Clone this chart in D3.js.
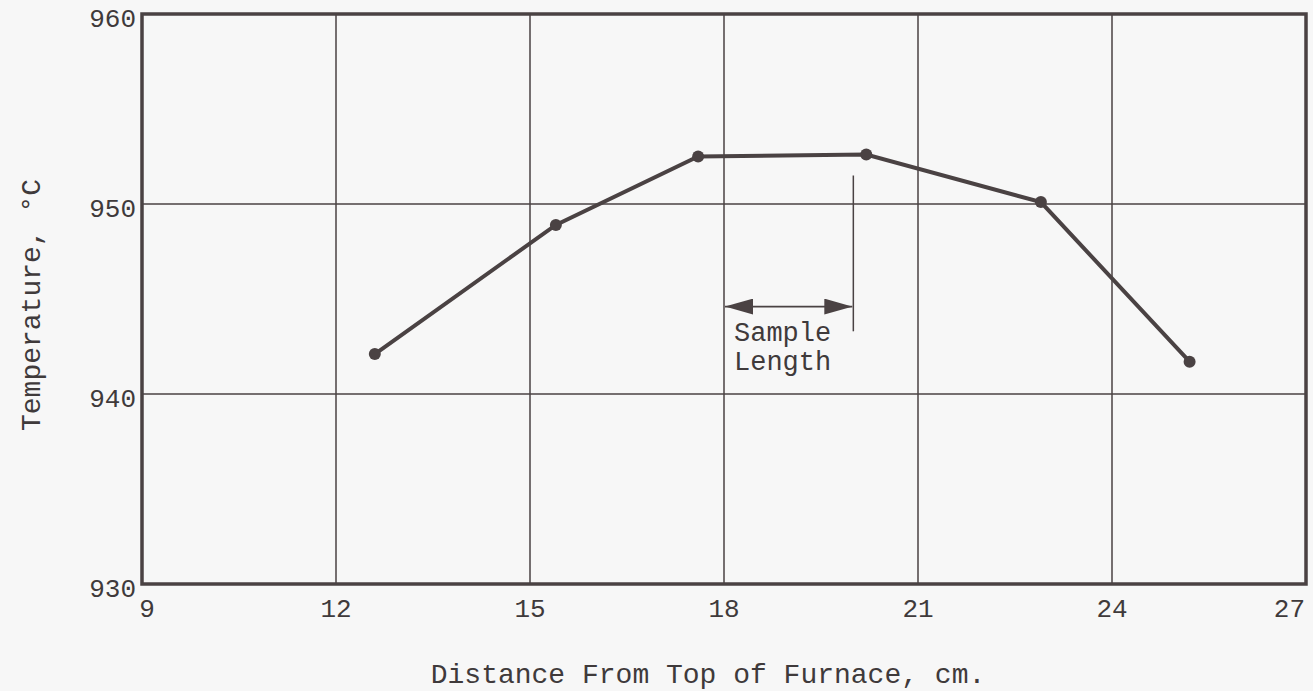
<!DOCTYPE html>
<html>
<head>
<meta charset="utf-8">
<script src="https://cdn.jsdelivr.net/npm/d3@7"></script>
<style>
  body { margin: 0; background: #f7f7f7; }
  svg { display: block; }
  text { font-family: "Liberation Mono", "DejaVu Sans Mono", monospace; fill: #3f3a3b; }
</style>
</head>
<body>
<svg width="1313" height="691"></svg>
<script>
// furnace temperature profile
var distance = [12.6, 15.4, 17.6, 20.2, 22.9, 25.2];
var temperature = [942.1, 948.9, 952.5, 952.6, 950.1, 941.7];
var xTicks = [9, 12, 15, 18, 21, 24, 27];
var yTicks = [930, 940, 950, 960];
var sampleStart = 18, sampleEnd = 20.0;
var sampleArrowT = 944.6, sampleLineTop = 951.5, sampleLineBottom = 943.3;

var ink = "#4a4243";

var svg = d3.select("svg"),
    margin = {top: 14, right: 7, bottom: 107, left: 142},
    width = +svg.attr("width") - margin.left - margin.right,
    height = +svg.attr("height") - margin.top - margin.bottom,
    g = svg.append("g").attr("transform", "translate(" + margin.left + "," + margin.top + ")");

var x = d3.scaleLinear().domain([9, 27]).range([0, width]);
var y = d3.scaleLinear().domain([930, 960]).range([height, 0]);

// grid
g.append("g")
  .selectAll("line")
  .data(xTicks.slice(1, -1))
  .enter().append("line")
    .attr("x1", function(d) { return x(d); })
    .attr("x2", function(d) { return x(d); })
    .attr("y1", 0).attr("y2", height)
    .attr("stroke", ink).attr("stroke-width", 1.5);

g.append("g")
  .selectAll("line")
  .data(yTicks.slice(1, -1))
  .enter().append("line")
    .attr("y1", function(d) { return y(d); })
    .attr("y2", function(d) { return y(d); })
    .attr("x1", 0).attr("x2", width)
    .attr("stroke", ink).attr("stroke-width", 1.5);

// frame
g.append("rect")
  .attr("width", width).attr("height", height)
  .attr("fill", "none").attr("stroke", ink).attr("stroke-width", 3.5);

// tick labels
g.append("g")
  .selectAll("text")
  .data(xTicks)
  .enter().append("text")
    .attr("x", function(d, i) { return i === xTicks.length - 1 ? x(d) - 1 : x(d) + (i === 0 ? 5 : 0); })
    .attr("y", height + 33)
    .attr("text-anchor", function(d, i) { return i === xTicks.length - 1 ? "end" : "middle"; })
    .style("font-size", "26px")
    .text(function(d) { return d; });

g.append("g")
  .selectAll("text")
  .data(yTicks)
  .enter().append("text")
    .attr("x", -6)
    .attr("y", function(d) { return y(d) + 4; })
    .attr("dy", "0.35em")
    .attr("text-anchor", "end")
    .style("font-size", "26px")
    .text(function(d) { return d; });

// sample length marker
var defs = svg.append("defs");
defs.append("marker")
    .attr("id", "head")
    .attr("viewBox", "0 0 18 10")
    .attr("refX", 18).attr("refY", 5)
    .attr("markerWidth", 28).attr("markerHeight", 16)
    .attr("markerUnits", "userSpaceOnUse")
    .attr("orient", "auto-start-reverse")
    .attr("preserveAspectRatio", "none")
  .append("path")
    .attr("d", "M0,0 L18,5 L0,10 Z")
    .attr("fill", ink);

g.append("line")
  .attr("x1", x(sampleEnd)).attr("x2", x(sampleEnd))
  .attr("y1", y(sampleLineTop)).attr("y2", y(sampleLineBottom))
  .attr("stroke", ink).attr("stroke-width", 1.5);

g.append("line")
  .attr("x1", x(sampleStart) + 1).attr("x2", x(sampleEnd) - 1)
  .attr("y1", y(sampleArrowT)).attr("y2", y(sampleArrowT))
  .attr("stroke", ink).attr("stroke-width", 1.8)
  .attr("marker-start", "url(#head)")
  .attr("marker-end", "url(#head)");

g.append("text")
  .attr("x", x(sampleStart) + 10)
  .attr("y", y(sampleArrowT) + 34)
  .style("font-size", "27px")
  .text("Sample");
g.append("text")
  .attr("x", x(sampleStart) + 10)
  .attr("y", y(sampleArrowT) + 63)
  .style("font-size", "27px")
  .text("Length");

// profile line
var pts = distance.map(function(d, i) { return [d, temperature[i]]; });
var line = d3.line()
  .x(function(d) { return x(d[0]); })
  .y(function(d) { return y(d[1]); });

g.append("path")
  .datum(pts)
  .attr("d", line)
  .attr("fill", "none")
  .attr("stroke", ink)
  .attr("stroke-width", 4);

g.append("g")
  .selectAll("circle")
  .data(pts)
  .enter().append("circle")
    .attr("cx", function(d) { return x(d[0]); })
    .attr("cy", function(d) { return y(d[1]); })
    .attr("r", 6)
    .attr("fill", ink);

// axis titles
svg.append("text")
  .attr("x", 708)
  .attr("y", 683)
  .attr("text-anchor", "middle")
  .style("font-size", "28px")
  .text("Distance From Top of Furnace, cm.");

svg.append("text")
  .attr("transform", "translate(40," + 305 + ") rotate(-90)")
  .attr("text-anchor", "middle")
  .style("font-size", "28px")
  .text("Temperature, \u00B0C");
</script>
</body>
</html>
